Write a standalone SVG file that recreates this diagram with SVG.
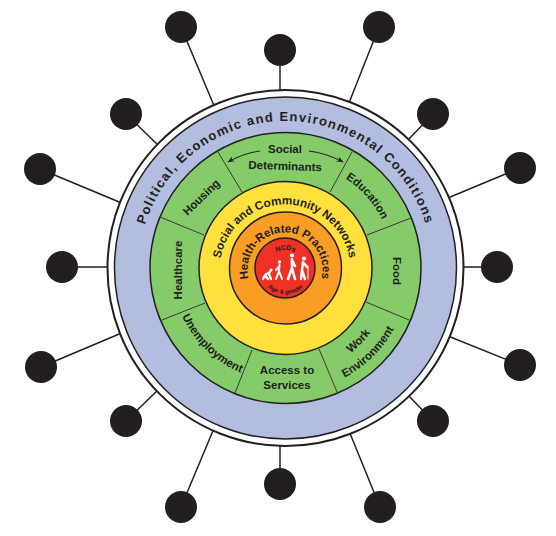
<svg xmlns="http://www.w3.org/2000/svg" width="556" height="536" viewBox="0 0 556 536">
<style>
.t{font-family:"Liberation Sans",Arial,sans-serif;font-weight:700;fill:#231f20}
.s{font-size:11.500px}
.ring{stroke:#231f20;stroke-width:1.500}
.div{stroke:#3a3a32;stroke-width:1;fill:none}
.spoke{stroke:#231f20;stroke-width:1.500;fill:none}
.dot{fill:#231f20}
.fig{fill:#fff}
.lim{fill:none;stroke:#fff;stroke-linecap:round;stroke-linejoin:round}
</style>
<defs>
<path id="pOuter" d="M285.500 415A147 147 0 0 1 285.500 121A147 147 0 0 1 285.500 415"/>
<path id="pSoc" d="M285 335.500A65.500 65.500 0 0 1 285 204.500A65.500 65.500 0 0 1 285 335.500"/>
<path id="pHealth" d="M285 307.500A37.500 37.500 0 0 1 285 232.500A37.500 37.500 0 0 1 285 307.500"/>
<path id="pNcd" d="M263.500 272A22 22 0 0 1 307.500 272"/>
<path id="pAge" d="M259.500 268A26 26 0 0 0 311.500 268"/>
<path id="pEdu" d="M177.500 268A108 108 0 0 1 393.500 268"/>
<path id="pUnem" d="M171.500 268A114 114 0 0 0 399.500 268"/>
<path id="pWork" d="M178.500 268A107 107 0 0 0 392.500 268"/>
<path id="pEnv" d="M161 268A124.500 124.500 0 0 0 410 268"/>
<marker id="ah" viewBox="0 0 10 10" refX="9" refY="5" markerWidth="7" markerHeight="7" orient="auto"><path d="M0 1L10 5L0 9L3 5Z" fill="#231f20"/></marker>
</defs>
<g id="connectors">
<line class="spoke" x1="181" y1="27" x2="215" y2="108"/>
<line class="spoke" x1="379" y1="27" x2="347" y2="108"/>
<line class="spoke" x1="280" y1="50" x2="280" y2="95"/>
<line class="spoke" x1="126" y1="114" x2="160" y2="147"/>
<line class="spoke" x1="433" y1="114" x2="406" y2="142"/>
<line class="spoke" x1="40" y1="169" x2="124" y2="204"/>
<line class="spoke" x1="520" y1="168" x2="443" y2="200"/>
<line class="spoke" x1="62" y1="267" x2="110" y2="267"/>
<line class="spoke" x1="497" y1="267" x2="458" y2="267"/>
<line class="spoke" x1="41" y1="367" x2="124" y2="332"/>
<line class="spoke" x1="520" y1="365" x2="443" y2="334"/>
<line class="spoke" x1="126" y1="421" x2="160" y2="388"/>
<line class="spoke" x1="433" y1="421" x2="406" y2="393"/>
<line class="spoke" x1="280" y1="484" x2="280" y2="441"/>
<line class="spoke" x1="181" y1="507" x2="215" y2="426"/>
<line class="spoke" x1="380" y1="507" x2="347" y2="426"/>
</g>
<g id="node-1"><circle class="dot" cx="181" cy="27" r="16"/></g>
<g id="node-2"><circle class="dot" cx="379" cy="27" r="16"/></g>
<g id="node-3"><circle class="dot" cx="280" cy="50" r="16"/></g>
<g id="node-4"><circle class="dot" cx="126" cy="114" r="16"/></g>
<g id="node-5"><circle class="dot" cx="433" cy="114" r="16"/></g>
<g id="node-6"><circle class="dot" cx="40" cy="169" r="16"/></g>
<g id="node-7"><circle class="dot" cx="520" cy="168" r="16"/></g>
<g id="node-8"><circle class="dot" cx="62" cy="267" r="16"/></g>
<g id="node-9"><circle class="dot" cx="497" cy="267" r="16"/></g>
<g id="node-10"><circle class="dot" cx="41" cy="367" r="16"/></g>
<g id="node-11"><circle class="dot" cx="520" cy="365" r="16"/></g>
<g id="node-12"><circle class="dot" cx="126" cy="421" r="16"/></g>
<g id="node-13"><circle class="dot" cx="433" cy="421" r="16"/></g>
<g id="node-14"><circle class="dot" cx="280" cy="484" r="16"/></g>
<g id="node-15"><circle class="dot" cx="181" cy="507" r="16"/></g>
<g id="node-16"><circle class="dot" cx="380" cy="507" r="16"/></g>
<g id="outer-ring">
<circle cx="285.500" cy="268" r="178" fill="#fff" stroke="#231f20" stroke-width="2"/>
<circle cx="285.500" cy="268" r="171" fill="#b2bde0" class="ring"/>
<text class="t" font-size="13" letter-spacing="1.300" text-anchor="middle"><textPath href="#pOuter" startOffset="50%">Political, Economic and Environmental Conditions</textPath></text>
</g>
<g id="social-determinants">
<circle cx="285.500" cy="268" r="135.500" fill="#85cb6a" class="ring"/>
<line class="div" x1="218" y1="152" x2="242" y2="192"/>
<line class="div" x1="352" y1="152" x2="330" y2="192"/>
<line class="div" x1="160" y1="217" x2="204" y2="235"/>
<line class="div" x1="411" y1="218" x2="367" y2="235"/>
<line class="div" x1="162" y1="320" x2="205" y2="303"/>
<line class="div" x1="409" y1="320" x2="366" y2="302"/>
<line class="div" x1="235" y1="393" x2="252" y2="350"/>
<line class="div" x1="337" y1="392" x2="319" y2="349"/>
<path d="M260 151Q244 153 228 162" fill="none" stroke="#231f20" stroke-width="1" marker-end="url(#ah)"/>
<path d="M309 151Q326 153 343 162" fill="none" stroke="#231f20" stroke-width="1" marker-end="url(#ah)"/>
<text class="t s" x="285" y="153" text-anchor="middle">Social</text>
<text class="t s" x="285" y="170" text-anchor="middle" transform="rotate(2 285 170)">Determinants</text>
<text class="t s" x="204" y="200" text-anchor="middle" transform="rotate(-44 204 200)">Housing</text>
<text class="t s" text-anchor="middle"><textPath href="#pEdu" startOffset="77%">Education</textPath></text>
<text class="t s" x="182" y="270" text-anchor="middle" transform="rotate(-90 182 270)">Healthcare</text>
<text class="t s" x="393" y="271" text-anchor="middle" transform="rotate(90 393 271)">Food</text>
<text class="t s" text-anchor="middle"><textPath href="#pUnem" startOffset="25.500%">Unemployment</textPath></text>
<text class="t s" x="287" y="374" text-anchor="middle">Access to</text>
<text class="t s" x="287" y="389" text-anchor="middle">Services</text>
<text class="t s" text-anchor="middle"><textPath href="#pWork" startOffset="75%">Work</textPath></text>
<text class="t s" text-anchor="middle"><textPath href="#pEnv" startOffset="74.700%">Environment</textPath></text>
</g>
<g id="social-networks">
<circle cx="285.500" cy="268" r="86.500" fill="#ffe03c" class="ring"/>
<text class="t" font-size="11.700" text-anchor="middle"><textPath href="#pSoc" startOffset="50%">Social and Community Networks</textPath></text>
</g>
<g id="health-practices">
<circle cx="285.500" cy="268" r="56" fill="#f99d25" class="ring"/>
<text class="t" font-size="11.500" text-anchor="middle"><textPath href="#pHealth" startOffset="50%">Health-Related Practices</textPath></text>
</g>
<g id="ncds">
<circle cx="285" cy="268" r="30" fill="#ee3124" class="ring"/>
<text class="t" font-size="7" text-anchor="middle"><textPath href="#pNcd" startOffset="50%">NCDs</textPath></text>
<text class="t" font-size="6" text-anchor="middle"><textPath href="#pAge" startOffset="50%">Age &amp; gender</textPath></text>
<g id="figures">
<circle class="fig" cx="271" cy="270" r="1.500"/><path class="lim" stroke-width="2.200" d="M270 272L265 275L263 279M265 275L268 279M269 274L271 279"/>
<circle class="fig" cx="279.500" cy="262" r="1.700"/><path class="lim" stroke-width="2" d="M279.500 265L279 271L276 279M279 271L282 279M279.500 266L276 270"/>
<circle class="fig" cx="292" cy="255.500" r="2.100"/><path class="lim" stroke-width="2.600" d="M292 259L292 268L288 279M292 268L295 279M292 260L295 266"/>
<circle class="fig" cx="304" cy="258.500" r="2.100"/><path class="lim" stroke-width="2.400" d="M303 262L302 270L301 279M302 270L305 279M303 262L307 267"/><path class="lim" stroke-width="1" d="M308 266V279"/>
</g>
</g>
</svg>
